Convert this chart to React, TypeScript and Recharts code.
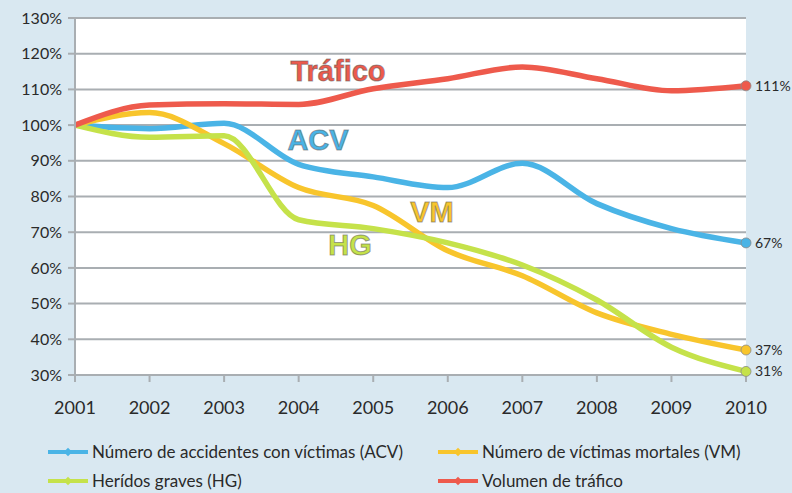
import React from 'react';
import {
  LineChart,
  Line,
  XAxis,
  YAxis,
  CartesianGrid,
} from 'recharts';

const years = ['2001', '2002', '2003', '2004', '2005', '2006', '2007', '2008', '2009', '2010'];
const acv = [100, 99, 100.5, 89, 85.5, 82.5, 89.3, 78, 71, 67];
const vm = [100, 103.5, 94.8, 82.5, 77.5, 64.8, 57.8, 47.4, 41.4, 37];
const hg = [100, 96.6, 97, 73.5, 71, 67, 60.8, 51, 37.8, 31];
const trafico = [100, 105.6, 106, 105.8, 110.2, 113, 116.3, 113, 109.6, 111];
const yTicks = [30, 40, 50, 60, 70, 80, 90, 100, 110, 120, 130];

const seriesNames = {
  acv: 'Número de accidentes con víctimas (ACV)',
  vm: 'Número de víctimas mortales (VM)',
  hg: 'Herídos graves (HG)',
  trafico: 'Volumen de tráfico',
};

const COLORS = {
  acv: '#4ab4e6',
  vm: '#f8c52c',
  hg: '#c5e24a',
  trafico: '#ee5a4c',
};

const data = years.map((year, i) => ({
  year,
  acv: acv[i],
  vm: vm[i],
  hg: hg[i],
  trafico: trafico[i],
}));

const FONT = 'Lato, "Open Sans", sans-serif';

// only the last point gets a marker and a value label
const endDot = (color: string) => (props: any) => {
  const { cx, cy, index, value } = props;
  if (index !== years.length - 1) return <g key={`d-${index}`} />;
  return (
    <g key={`d-${index}`}>
      <circle cx={cx} cy={cy} r={5} fill={color} stroke="#8a8a8a" strokeWidth={0.8} />
      <text x={cx + 9} y={cy + 5} fontSize={14} fontFamily={FONT} fill="#2a2a2a">
        {Math.round(value)}%
      </text>
    </g>
  );
};

const legendOrder: (keyof typeof seriesNames)[] = ['acv', 'vm', 'hg', 'trafico'];

function LegendBlock() {
  return (
    <div
      style={{
        position: 'absolute',
        left: 46,
        top: 441,
        display: 'grid',
        gridTemplateColumns: '390px 340px',
        rowGap: 8,
        fontFamily: FONT,
        fontSize: 17,
        color: '#2a2a2a',
      }}
    >
      {legendOrder.map((k) => (
        <div key={k} style={{ display: 'flex', alignItems: 'center', height: 21 }}>
          <svg width={44} height={10} style={{ marginRight: 2 }}>
            <line x1={2} y1={5} x2={42} y2={5} stroke={COLORS[k]} strokeWidth={4} />
            <rect x={19} y={2} width={6} height={6} fill={COLORS[k]} transform="rotate(45 22 5)" />
          </svg>
          <span>{seriesNames[k]}</span>
        </div>
      ))}
    </div>
  );
}

const annotations = [
  { text: 'Tráfico', x: 338, y: 81, color: '#ee5a4c' },
  { text: 'ACV', x: 318, y: 150, color: '#4ab4e6' },
  { text: 'VM', x: 432, y: 222, color: '#f8c52c' },
  { text: 'HG', x: 350, y: 255, color: '#c5e24a' },
];

export default function App() {
  return (
    <div
      style={{
        position: 'absolute',
        left: 0,
        top: 0,
        width: 792,
        height: 493,
        background: '#d9e8f1',
        overflow: 'hidden',
      }}
    >
      <LineChart
        width={792}
        height={493}
        data={data}
        margin={{ top: 18, right: 46, bottom: 88, left: 0 }}
      >
        <CartesianGrid vertical={false} stroke="#a9aeb2" strokeWidth={2} fill="#ffffff" />
        <XAxis
          dataKey="year"
          height={30}
          padding={{ left: 0, right: 0 }}
          axisLine={{ stroke: '#a9aeb2', strokeWidth: 2 }}
          tickLine={{ stroke: '#a9aeb2', strokeWidth: 2 }}
          tickSize={7}
          tick={{ fontSize: 18, fontFamily: FONT, fill: '#2a2a2a', dy: 17 }}
          interval={0}
        />
        <YAxis
          width={75}
          domain={[30, 130]}
          ticks={yTicks}
          tickFormatter={(v) => `${v}%`}
          axisLine={{ stroke: '#a9aeb2', strokeWidth: 2 }}
          tickLine={{ stroke: '#a9aeb2', strokeWidth: 2 }}
          tickSize={7}
          tick={{ fontSize: 16, fontFamily: FONT, fill: '#2a2a2a', dx: -4 }}
        />
        <Line type="monotone" dataKey="acv" stroke={COLORS.acv} strokeWidth={5.5} dot={endDot(COLORS.acv)} activeDot={false} isAnimationActive={false} />
        <Line type="monotone" dataKey="vm" stroke={COLORS.vm} strokeWidth={5.5} dot={endDot(COLORS.vm)} activeDot={false} isAnimationActive={false} />
        <Line type="monotone" dataKey="hg" stroke={COLORS.hg} strokeWidth={5.5} dot={endDot(COLORS.hg)} activeDot={false} isAnimationActive={false} />
        <Line type="monotone" dataKey="trafico" stroke={COLORS.trafico} strokeWidth={5.5} dot={endDot(COLORS.trafico)} activeDot={false} isAnimationActive={false} />
      </LineChart>
      <LegendBlock />
      <svg
        width={792}
        height={493}
        style={{ position: 'absolute', left: 0, top: 0, pointerEvents: 'none' }}
      >
        {annotations.map((a) => (
          <text
            key={a.text}
            x={a.x}
            y={a.y}
            textAnchor="middle"
            fontFamily='"Liberation Sans", Arial, sans-serif'
            fontWeight="bold"
            fontSize={29}
            fill={a.color}
            stroke="rgba(90,90,90,0.55)"
            strokeWidth={1}
          >
            {a.text}
          </text>
        ))}
      </svg>
    </div>
  );
}
